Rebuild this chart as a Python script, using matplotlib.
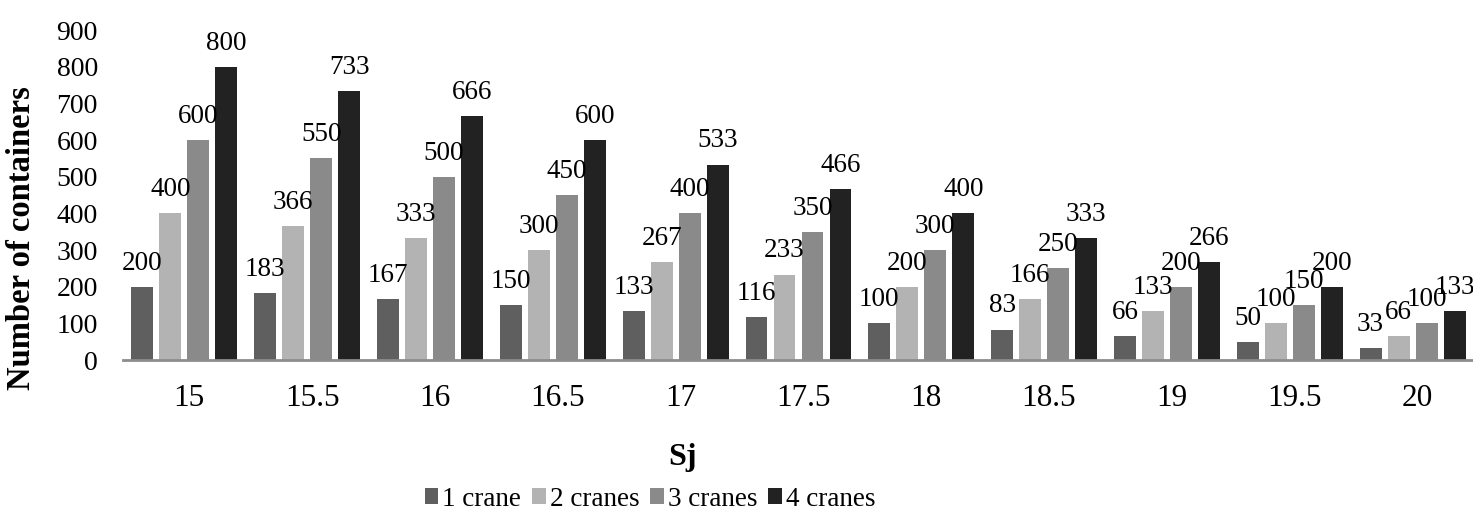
import matplotlib
matplotlib.use("Agg")
import matplotlib.pyplot as plt
import numpy as np

categories = ["15", "15.5", "16", "16.5", "17", "17.5", "18", "18.5", "19", "19.5", "20"]
series_names = ["1 crane", "2 cranes", "3 cranes", "4 cranes"]
crane1 = [200, 183, 167, 150, 133, 116, 100, 83, 66, 50, 33]
crane2 = [400, 366, 333, 300, 267, 233, 200, 166, 133, 100, 66]
crane3 = [600, 550, 500, 450, 400, 350, 300, 250, 200, 150, 100]
crane4 = [800, 733, 666, 600, 533, 466, 400, 333, 266, 200, 133]
yticks = [0, 100, 200, 300, 400, 500, 600, 700, 800, 900]

colors = ["#5f5f5f", "#b3b3b3", "#8a8a8a", "#222222"]

plt.rcParams["font.family"] = ["Liberation Serif", "DejaVu Serif"]

W, H = 1473, 517
fig = plt.figure(figsize=(W / 100, H / 100), dpi=100)
ax = fig.add_axes([123 / W, 1 - 360 / H, (1474 - 123) / W, (360 - 30) / H])

x = np.arange(len(categories))
pitch = 0.228
width = 0.179
all_series = [crane1, crane2, crane3, crane4]
for i, (vals, name, c) in enumerate(zip(all_series, series_names, colors)):
    pos = x + (i - 1.5) * pitch
    ax.bar(pos, vals, width, color=c, label=name)
    for px, v in zip(pos, vals):
        ax.annotate(str(v), (px, v), xytext=(0, 8), textcoords="offset points",
                    ha="center", va="bottom", fontsize=19.5)

ax.set_xlim(-0.5, len(categories) - 0.5)
ax.set_ylim(0, 900)
ax.set_yticks(yticks)
ax.set_xticks(x + 0.04)
ax.set_xticklabels(categories)
ax.tick_params(axis="both", length=0)
ax.tick_params(axis="y", pad=18, labelsize=20)
ax.tick_params(axis="x", pad=17, labelsize=22.5)
for s in ["top", "right", "left"]:
    ax.spines[s].set_visible(False)
ax.spines["bottom"].set_color("#8c8c8c")
ax.spines["bottom"].set_linewidth(2)

fig.text(22 / W, 1 - 238 / H, "Number of containers", rotation=90, ha="center", va="center",
         fontsize=23.5, fontweight="bold")
fig.text(683 / W, 1 - 458 / H, "Sj", ha="center", va="center", fontsize=23, fontweight="bold")

fig.legend(loc="center", bbox_to_anchor=(650 / W, 1 - 499 / H), ncol=4, frameon=False,
           fontsize=19.5, handlelength=0.5, handleheight=0.5, handletextpad=0.15,
           columnspacing=0.4)

fig.savefig("out.png", dpi=100)
